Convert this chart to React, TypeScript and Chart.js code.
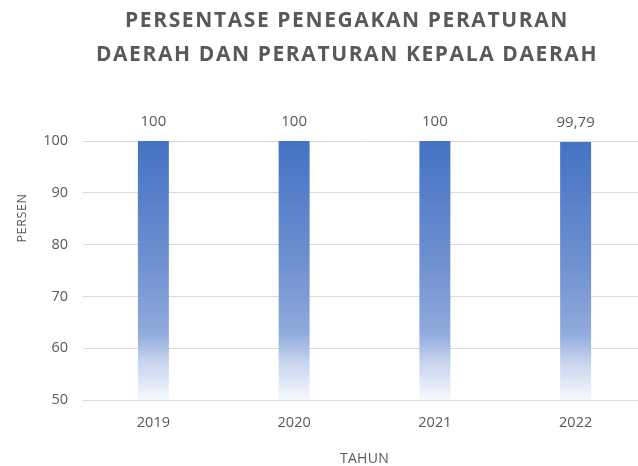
import React, { useEffect, useRef } from "react";
import { Chart, registerables } from "chart.js";

Chart.register(...registerables);

const titleLines = ["PERSENTASE PENEGAKAN PERATURAN", "DAERAH DAN PERATURAN KEPALA DAERAH"];
const categories = ["2019", "2020", "2021", "2022"];
const values = [100, 100, 100, 99.79];
const valueLabels = ["100", "100", "100", "99,79"];
const yAxisTitle = "PERSEN";
const xAxisTitle = "TAHUN";

const FONT = "'Open Sans', sans-serif";
const GREY = "#595959";

const textPlugin = {
  id: "customText",
  afterDraw(chart: any) {
    const ctx = chart.ctx as CanvasRenderingContext2D;
    const area = chart.chartArea;
    ctx.save();
    ctx.fillStyle = GREY;
    ctx.textAlign = "center";
    ctx.textBaseline = "middle";
    // Title
    (ctx as any).letterSpacing = "1.6px";
    ctx.font = `bold 21px ${FONT}`;
    titleLines.forEach((line, i) => {
      ctx.fillText(line, 347, 21 + i * 34);
    });
    // Data labels
    (ctx as any).letterSpacing = "0px";
    ctx.font = `15px ${FONT}`;
    const meta = chart.getDatasetMeta(0);
    meta.data.forEach((bar: any, i: number) => {
      ctx.fillText(valueLabels[i], bar.x, bar.y - 19);
    });
    // X axis title
    ctx.font = `14px ${FONT}`;
    (ctx as any).letterSpacing = "0.3px";
    ctx.fillText(xAxisTitle, (area.left + area.right) / 2, 459);
    // Y axis title
    ctx.font = `12.5px ${FONT}`;
    (ctx as any).letterSpacing = "0.6px";
    ctx.translate(22, 218);
    ctx.rotate(-Math.PI / 2);
    ctx.fillText(yAxisTitle, 0, 0);
    ctx.restore();
  },
};

export default function App() {
  const ref = useRef<HTMLCanvasElement>(null);
  useEffect(() => {
    if (!ref.current) return;
    const chart = new Chart(ref.current, {
      type: "bar",
      data: {
        labels: categories,
        datasets: [
          {
            data: values,
            backgroundColor: (c: any) => {
              const area = c.chart.chartArea;
              if (!area) return "#4472C4";
              const g = c.chart.ctx.createLinearGradient(0, area.top, 0, area.bottom);
              g.addColorStop(0, "#4472C4");
              g.addColorStop(0.45, "#6d8fcf");
              g.addColorStop(0.74, "#8faadc");
              g.addColorStop(0.86, "#c9d6ef");
              g.addColorStop(1, "#f6f8fc");
              return g;
            },
            borderWidth: 0,
            categoryPercentage: 1,
            barPercentage: 0.22,
          },
        ],
      },
      options: {
        animation: false,
        responsive: false,
        maintainAspectRatio: false,
        layout: { padding: { top: 141, left: 0, right: 0, bottom: 0 } },
        plugins: {
          legend: { display: false },
          title: { display: false },
          tooltip: { enabled: false },
        },
        scales: {
          x: {
            grid: { display: false },
            border: { display: true, color: "#d9d9d9", width: 1 },
            ticks: { color: GREY, font: { family: FONT, size: 14.5 }, padding: 6 },
            afterFit: (s: any) => {
              s.height = 66;
            },
          },
          y: {
            min: 50,
            max: 100,
            ticks: { stepSize: 10, color: GREY, font: { family: FONT, size: 14.5 }, padding: 15 },
            grid: { color: "#d9d9d9", drawTicks: false },
            border: { display: false },
            afterFit: (s: any) => {
              s.width = 83;
            },
          },
        },
      },
      plugins: [textPlugin],
    });
    return () => chart.destroy();
  }, []);
  return (
    <div style={{ position: "fixed", left: 0, top: 0, width: 638, height: 466, overflow: "hidden", background: "#fff" }}>
      <canvas ref={ref} width={646} height={466} style={{ display: "block", width: 646, height: 466 }} />
    </div>
  );
}
